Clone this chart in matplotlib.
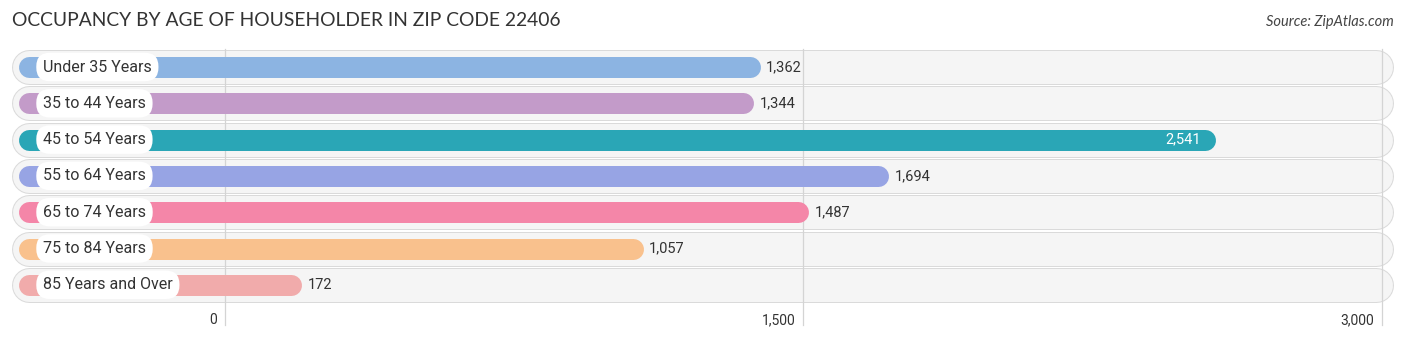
import matplotlib.pyplot as plt

# data
categories = ["Under 35 Years", "35 to 44 Years", "45 to 54 Years", "55 to 64 Years",
              "65 to 74 Years", "75 to 84 Years", "85 Years and Over"]
values = [1362, 1344, 2541, 1694, 1487, 1057, 172]
colors = ["#8cb4e2", "#c39bc9", "#2aa6b6", "#97a4e4", "#f486a8", "#f9c18d", "#f1abab"]
ticks = [0, 1500, 3000]
tick_labels = ["0", "1,500", "3,000"]

W, H = 1406, 340
fig = plt.figure(figsize=(W / 100, H / 100), dpi=100)
ax = fig.add_axes([0, 0, 1, 1])

# pixel mapping: value 0 at x=225px, 3000 at x=1382px
x0_px, px_per = 225, (1382 - 225) / 3000
ax.set_xlim(-x0_px / px_per, (W - x0_px) / px_per)
row0, row_gap = 67, 36.3
ax.set_ylim((H - row0) / row_gap, -row0 / row_gap)
ax.axis("off")

def px2x(p):
    return (p - x0_px) / px_per

pt = 0.72  # points per pixel

# gridlines
for t, lab in zip(ticks, tick_labels):
    ax.plot([t, t], [-0.5, 7.1], color="#d4d4d4", lw=0.9, zorder=2)
    ax.text(t - 8 / px_per, 6.97, lab, ha="right", va="center", fontsize=10,
            color="#333333", family="Roboto")

for i, (cat, v, c) in enumerate(zip(categories, values, colors)):
    # background track
    ax.plot([px2x(29), px2x(1376)], [i, i], color="#dadada", lw=35 * pt,
            solid_capstyle="round", zorder=1)
    ax.plot([px2x(29), px2x(1376)], [i, i], color="#f5f5f5", lw=33 * pt,
            solid_capstyle="round", zorder=1.5)
    # bar
    ax.plot([px2x(29), v], [i, i], color=c, lw=21 * pt, solid_capstyle="round", zorder=3)
    # category pill
    ax.text(px2x(43), i, cat, ha="left", va="center", fontsize=11.5, color="#333333",
            family="Roboto", zorder=5,
            bbox=dict(boxstyle="round,pad=0.42,rounding_size=0.85", fc="white", ec="none"))
    # value label
    lab = f"{v:,}"
    if v > 2300:
        ax.text(v - 4 / px_per, i, lab, ha="right", va="center", fontsize=10.5,
                color="white", family="Roboto", zorder=5)
    else:
        ax.text(v + 16 / px_per, i, lab, ha="left", va="center", fontsize=10.5,
                color="#333333", family="Roboto", zorder=5)

fig.text(12 / W, 1 - 20 / H, "OCCUPANCY BY AGE OF HOUSEHOLDER IN ZIP CODE 22406",
         ha="left", va="center", fontsize=13.9, color="#333333", family="Lato")
fig.text(1394 / W, 1 - 22 / H, "Source: ZipAtlas.com", ha="right", va="center",
         fontsize=10.5, color="#444444", style="italic", family="Lato")

fig.savefig("out.png", dpi=100)
